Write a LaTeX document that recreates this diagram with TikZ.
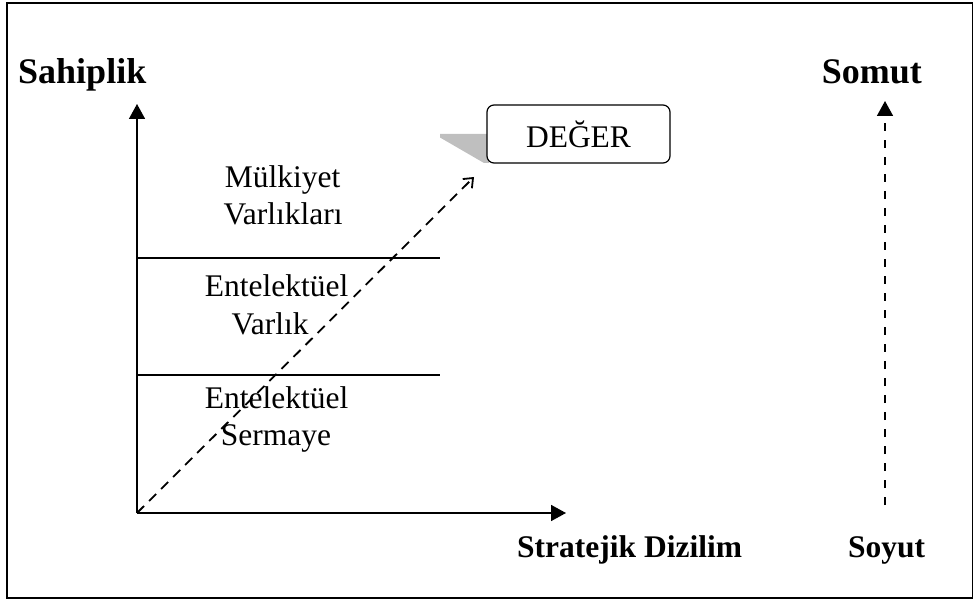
\documentclass[tikz,border=0pt]{standalone}
\usepackage{fontspec}
\setmainfont{Liberation Serif}
\usetikzlibrary{arrows.meta}
\begin{document}
\begin{tikzpicture}[x=1pt,y=-1pt,
  lbl/.style={inner sep=0pt,font=\fontsize{31.5}{37}\selectfont},
  blbl/.style={lbl,font=\fontsize{31.5}{37}\selectfont\bfseries},
  bigbl/.style={lbl,font=\fontsize{36}{43}\selectfont\bfseries},
  axis/.style={line width=1.6pt,-{Triangle[length=15pt,width=16pt]}},
  dasharrow/.style={line width=1.8pt,dash pattern=on 10pt off 7pt,-{Straight Barb[length=8pt,width=13pt,line width=1.8pt]}},
  vdash/.style={line width=1.6pt,dash pattern=on 8pt off 9pt,-{Triangle[length=15pt,width=16pt]}},
  sep/.style={line width=1.3pt},
  callout/.style={draw,line width=1.2pt,rounded corners=7pt,minimum width=183pt,minimum height=58pt,inner sep=0pt,font=\fontsize{31.5}{37}\selectfont}]
\useasboundingbox (0,0) rectangle (974,601);
\draw[line width=1.3pt] (7,3) rectangle (972.5,598);
% axes
\coordinate (o) at (137,513);
\coordinate (ytip) at (137,104);
\coordinate (xtip) at (566,513);
\draw[axis] (o) -- (ytip);
\draw[axis] (o) -- (xtip);
% separators
\coordinate (l1a) at (137,258);
\coordinate (l1b) at (440,258);
\coordinate (l2a) at (137,375);
\coordinate (l2b) at (440,375);
\draw[sep] (l1a) -- (l1b);
\draw[sep] (l2a) -- (l2b);
% labels
\node[bigbl,anchor=base west] (sah) at (18,84) {Sahiplik};
\node[blbl,anchor=base west] (str) at (517,557) {Stratejik Dizilim};
\node[bigbl,anchor=base east] (som) at (922,84) {Somut};
\node[blbl,anchor=base west] (soy) at (848,557) {Soyut};
\node[lbl,anchor=base] (m1) at (282.5,188) {Mülkiyet};
\node[lbl,anchor=base] (m2) at (283,225) {Varlıkları};
\node[lbl,anchor=base] (e1) at (276.5,297) {Entelektüel};
\node[lbl,anchor=base] (e2) at (270,335) {Varlık};
\node[lbl,anchor=base] (e3) at (276.5,408) {Entelektüel};
\node[lbl,anchor=base] (e4) at (276,445) {Sermaye};
% callout
\fill[black!25] (440,134) -- (489,134) -- (489,163) -- (484,163) -- (440,137.5) -- cycle;
\node[callout,fill=white] (deg) at (578.5,134) {DEĞER};
% dashed arrows
\coordinate (dtip) at (474,177);
\draw[dasharrow] (o) -- (dtip);
\coordinate (sbot) at (885,505);
\coordinate (stop) at (885,101);
\draw[vdash] (sbot) -- (stop);
\end{tikzpicture}
\end{document}
